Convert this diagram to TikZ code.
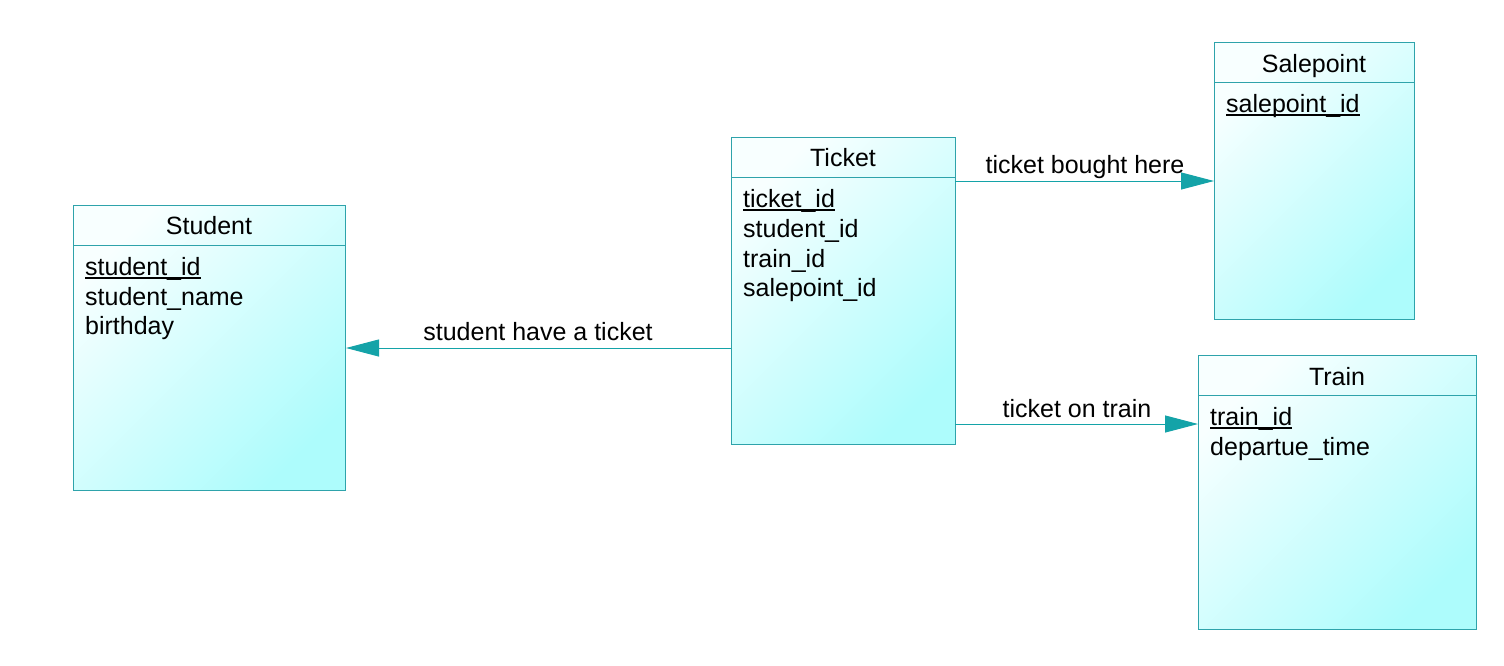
\documentclass[tikz,border=0pt]{standalone}
\usepackage{fontspec}
\setmainfont{Liberation Sans}
\usetikzlibrary{arrows.meta}
\definecolor{edgec}{HTML}{2EA3AB}
\definecolor{arrowc}{HTML}{14A3A8}
\definecolor{shadeA}{HTML}{F8FFFF}
\definecolor{shadeB}{HTML}{ADFCFC}
\tikzset{
  entity/.style={draw=edgec, line width=1pt, top color=shadeA, bottom color=shadeB,
    shading angle=45, rectangle, inner sep=0pt, anchor=north west},
  divider/.style={draw=edgec, line width=1pt},
  title/.style={font=\fontsize{25}{30}\selectfont, anchor=base, inner sep=0pt},
  attr/.style={font=\fontsize{25}{30}\selectfont, anchor=base west, inner sep=0pt},
  lbl/.style={font=\fontsize{25}{30}\selectfont, anchor=base, inner sep=0pt},
  keyline/.style={line width=1.2pt},
  rel/.style={draw=arrowc, line width=1pt, -{Triangle[length=33pt,width=17pt]}}
}
\begin{document}
\begin{tikzpicture}[x=1pt,y=-1pt]
\useasboundingbox (0,0) rectangle (1504,665);
\fill[white] (0,0) rectangle (1504,665);

% Student
\node[entity, minimum width=272pt, minimum height=285pt] (student) at (73,205) {};
\draw[divider] (73,245) -- (345,245);
\node[title] (studentT) at (209,234) {Student};
\node[attr] (s1) at (85,275) {student\_id};
\node[attr] (s2) at (85,305) {student\_name};
\node[attr] (s3) at (85,334) {birthday};
\draw[keyline] ([yshift=-3pt]s1.base west) -- ([yshift=-3pt]s1.base east);

% Ticket
\node[entity, minimum width=224pt, minimum height=307pt] (ticket) at (731,137) {};
\draw[divider] (731,177) -- (955,177);
\node[title] (ticketT) at (843,166) {Ticket};
\node[attr] (t1) at (743,207) {ticket\_id};
\node[attr] (t2) at (743,237) {student\_id};
\node[attr] (t3) at (743,267) {train\_id};
\node[attr] (t4) at (743,296) {salepoint\_id};
\draw[keyline] ([yshift=-3pt]t1.base west) -- ([yshift=-3pt]t1.base east);

% Salepoint
\node[entity, minimum width=200pt, minimum height=277pt] (salepoint) at (1214,42) {};
\draw[divider] (1214,82) -- (1414,82);
\node[title] (salepointT) at (1314,72) {Salepoint};
\node[attr] (p1) at (1226,112) {salepoint\_id};
\draw[keyline] ([yshift=-3pt]p1.base west) -- ([yshift=-3pt]p1.base east);

% Train
\node[entity, minimum width=278pt, minimum height=274pt] (train) at (1198,355) {};
\draw[divider] (1198,395) -- (1476,395);
\node[title] (trainT) at (1337,385) {Train};
\node[attr] (r1) at (1210,425) {train\_id};
\node[attr] (r2) at (1210,455) {departue\_time};
\draw[keyline] ([yshift=-3pt]r1.base west) -- ([yshift=-3pt]r1.base east);

% Relationships
\coordinate (c1) at (731,348);
\coordinate (c2) at (955,181);
\coordinate (c3) at (955,424);
\draw[rel] (c1) -- (student.east |- c1);
\draw[rel] (c2) -- (salepoint.west |- c2);
\draw[rel] (c3) -- (train.west |- c3);
\node[lbl] (l1) at (538,340) {student have a ticket};
\node[lbl] (l2) at (1085,173) {ticket bought here};
\node[lbl] (l3) at (1077,417) {ticket on train};
\end{tikzpicture}
\end{document}
